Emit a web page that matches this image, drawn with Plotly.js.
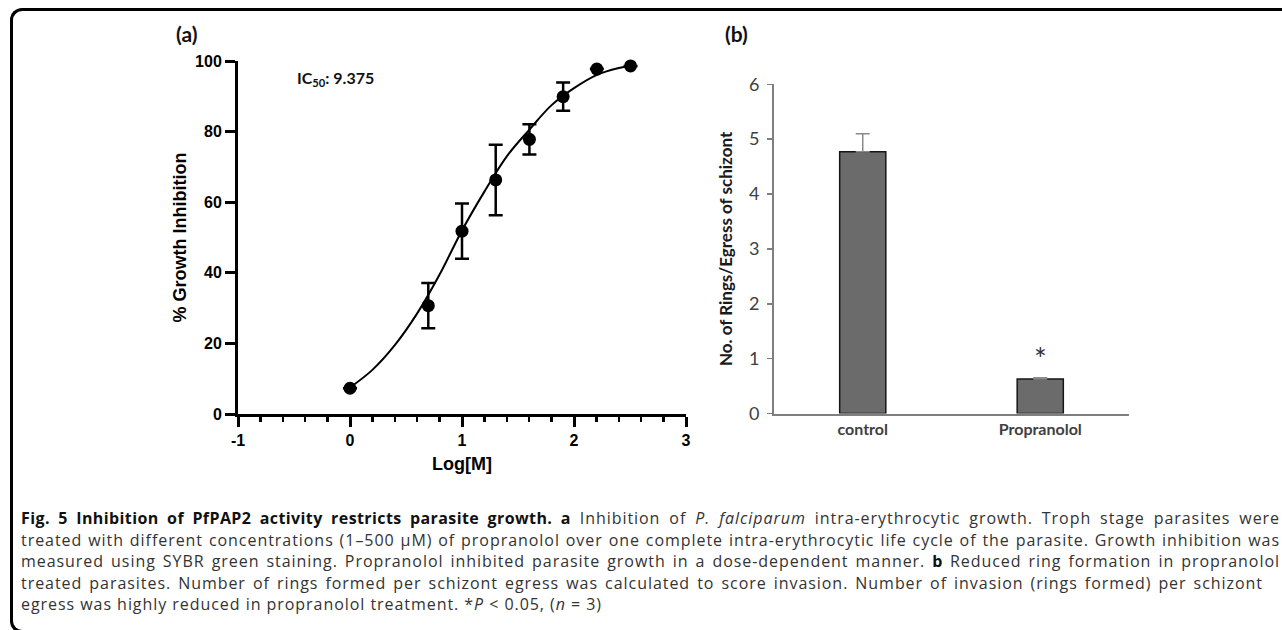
<!DOCTYPE html>
<html>
<head>
<meta charset="utf-8">
<script src="https://cdn.plot.ly/plotly-3.0.1.min.js"></script>
<style>
  html, body { margin: 0; padding: 0; background: #fff; width: 1282px; height: 630px; overflow: hidden; }
  #chart { position: absolute; left: 0; top: 0; width: 1282px; height: 630px; }
  #frame { position: absolute; left: 10px; top: 8px; width: 1300px; height: 619px;
           border-left: 3px solid #000; border-top: 3px solid #000; border-bottom: 3px solid #000;
           border-top-left-radius: 12px; border-bottom-left-radius: 12px; pointer-events: none; }
  #caption { position: absolute; left: 21px; top: 508px; width: 1259px;
             font-family: "Open Sans", sans-serif; font-size: 16px; letter-spacing: 0.95px;
             line-height: 21.5px; color: #333; }
  #caption .ln { white-space: nowrap; text-align: justify; text-align-last: justify; }
  #caption .ln.last { text-align: left; text-align-last: left; }
  #caption b { color: #111; letter-spacing: 0.4px; }
</style>
</head>
<body>
<div id="chart"></div>
<div id="frame"></div>
<div id="caption">
  <div class="ln"><b>Fig. 5 Inhibition of PfPAP2 activity restricts parasite growth. a</b> Inhibition of <i>P. falciparum</i> intra-erythrocytic growth. Troph stage parasites were</div>
  <div class="ln">treated with different concentrations (1–500 µM) of propranolol over one complete intra-erythrocytic life cycle of the parasite. Growth inhibition was</div>
  <div class="ln">measured using SYBR green staining. Propranolol inhibited parasite growth in a dose-dependent manner. <b>b</b> Reduced ring formation in propranolol</div>
  <div class="ln" style="width:1242px">treated parasites. Number of rings formed per schizont egress was calculated to score invasion. Number of invasion (rings formed) per schizont</div>
  <div class="ln last">egress was highly reduced in propranolol treatment. *<i>P</i> &lt; 0.05, (<i>n</i> = 3)</div>
</div>
<script>
// ---- Panel (a): dose-response ----
const logConc = [0, 0.699, 1.0, 1.301, 1.602, 1.903, 2.204, 2.505];
const inhibitionMean = [7.3, 30.7, 51.8, 66.3, 77.8, 89.9, 97.7, 98.6];
const inhibitionErr = [0, 6.4, 7.8, 10.0, 4.3, 4.0, 0, 0];
// fitted curve
const fitLogConc = [0, 0.2, 0.4, 0.6, 0.8, 1.0, 1.2, 1.4, 1.6, 1.8, 2.0, 2.2, 2.4, 2.5];
const fitInhibition = [7.5, 12.5, 19.5, 28.5, 39.5, 52, 63, 73, 80.5, 87.5, 92.3, 96, 98, 98.6];
const aTickVals = [-1, 0, 1, 2, 3];
const aTickText = ['-1', '0', '1', '2', '3'];
const aYTickVals = [0, 20, 40, 60, 80, 100];

// ---- Panel (b): rings per egress ----
const groups = ['control', 'Propranolol'];
const ringsPerEgress = [4.77, 0.63];
const ringsErr = [0.33, 0.02];
const bYTickVals = [0, 1, 2, 3, 4, 5, 6];

const arial = 'Liberation Sans, Arial, sans-serif';
const cal = 'Lato, Calibri, sans-serif';

const traces = [
  { x: fitLogConc, y: fitInhibition, type: 'scatter', mode: 'lines',
    line: { color: '#000', width: 2, shape: 'spline' }, xaxis: 'x', yaxis: 'y',
    cliponaxis: false, hoverinfo: 'skip' },
  { x: logConc, y: inhibitionMean, type: 'scatter', mode: 'markers',
    marker: { color: '#000', size: 13 }, xaxis: 'x', yaxis: 'y', cliponaxis: false,
    error_y: { type: 'data', array: inhibitionErr, visible: true, color: '#000', thickness: 2.5, width: 7 } },
  { x: groups, y: ringsPerEgress, type: 'bar', xaxis: 'x2', yaxis: 'y2', width: 0.26,
    marker: { color: '#6b6b6b', line: { color: '#161616', width: 1.5 } },
    error_y: { type: 'data', symmetric: false, array: ringsErr, arrayminus: [0, 0],
               visible: true, color: '#8a8a8a', thickness: 1.5, width: 7 } }
];

const layout = {
  width: 1282, height: 630,
  margin: { l: 0, r: 0, t: 0, b: 0 },
  paper_bgcolor: '#fff', plot_bgcolor: 'rgba(0,0,0,0)',
  showlegend: false,
  xaxis: {
    domain: [238 / 1282, 686 / 1282], anchor: 'y', range: [-1, 3],
    tickmode: 'array', tickvals: aTickVals, ticktext: aTickText,
    ticks: 'outside', ticklen: 10, tickwidth: 3, tickcolor: '#000',
    minor: { tickmode: 'linear', tick0: -1, dtick: 0.2, ticks: 'outside', ticklen: 5, tickwidth: 2.5, tickcolor: '#000' },
    showline: true, linecolor: '#000', linewidth: 3, showgrid: false, zeroline: false,
    tickfont: { family: arial, size: 16, color: '#000', weight: 'bold' },
    title: { text: 'Log[M]', standoff: 10, font: { family: arial, size: 18, color: '#000', weight: 'bold' } }
  },
  yaxis: {
    domain: [1 - 414 / 630, 1 - 61 / 630], anchor: 'x', range: [0, 100],
    tickmode: 'array', tickvals: aYTickVals,
    ticks: 'outside', ticklen: 10, tickwidth: 3, tickcolor: '#000',
    showline: true, linecolor: '#000', linewidth: 3, showgrid: false, zeroline: false,
    tickfont: { family: arial, size: 16, color: '#000', weight: 'bold' },
    title: { text: '% Growth Inhibition', standoff: 4, font: { family: arial, size: 18, color: '#000', weight: 'bold' } }
  },
  xaxis2: {
    domain: [774 / 1282, 1129 / 1282], anchor: 'y2', type: 'category',
    categoryorder: 'array', categoryarray: groups, range: [-0.5, 1.5],
    ticks: '', showline: true, linecolor: '#7f7f7f', linewidth: 2, showgrid: false, zeroline: false,
    tickfont: { family: cal, size: 16, color: '#404040', weight: 'bold' }
  },
  yaxis2: {
    domain: [1 - 413.5 / 630, 1 - 84.3 / 630], anchor: 'x2', range: [0, 6],
    tickmode: 'array', tickvals: bYTickVals,
    ticks: 'outside', ticklen: 5, tickwidth: 1.5, tickcolor: '#7f7f7f', ticklabelstandoff: 4,
    showline: true, linecolor: '#7f7f7f', linewidth: 2, showgrid: false, zeroline: false,
    tickfont: { family: cal, size: 18, color: '#404040' },
    title: { text: 'No. of Rings/Egress of schizont', standoff: 12, font: { family: cal, size: 17, color: '#1a1a1a', weight: 'bold' } }
  },
  annotations: [
    { text: '(a)', xref: 'paper', yref: 'paper', x: 186 / 1282, y: 1 - 33 / 630,
      xanchor: 'center', yanchor: 'middle', showarrow: false,
      font: { family: cal, size: 21, color: '#111', weight: 'bold' } },
    { text: '(b)', xref: 'paper', yref: 'paper', x: 736 / 1282, y: 1 - 33 / 630,
      xanchor: 'center', yanchor: 'middle', showarrow: false,
      font: { family: cal, size: 21, color: '#111', weight: 'bold' } },
    { text: 'IC<sub>50</sub>: 9.375', xref: 'paper', yref: 'paper', x: 295 / 1282, y: 1 - 78 / 630,
      xanchor: 'left', yanchor: 'middle', showarrow: false,
      font: { family: cal, size: 16, color: '#111', weight: 'bold' } },
    { text: '*', xref: 'x2', yref: 'y2', x: 'Propranolol', y: 1.02,
      xanchor: 'center', yanchor: 'middle', showarrow: false,
      font: { family: cal, size: 30, color: '#333' } }
  ]
};

Plotly.newPlot('chart', traces, layout, { staticPlot: true, displayModeBar: false });
</script>
</body>
</html>
